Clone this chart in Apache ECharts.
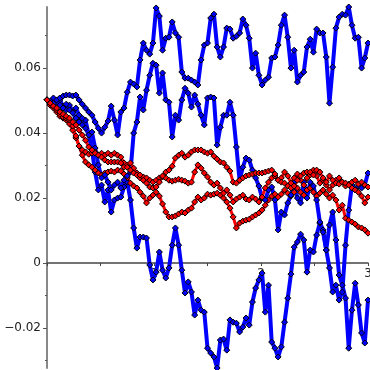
<!DOCTYPE html>
<html>
<head>
<meta charset="utf-8">
<script src="https://cdn.jsdelivr.net/npm/echarts@6/dist/echarts.min.js"></script>
<style>
  html, body { margin: 0; padding: 0; background: #fff; }
  #chart { width: 370px; height: 370px; }
</style>
</head>
<body>
<div id="chart"></div>
<script>
// time grid: 100 steps of 0.03 from 0 to 3
const tStep = 0.03

// three volatile (blue) paths
const blueTop = [0.0502, 0.0498, 0.0492, 0.0502, 0.0508, 0.0514, 0.0517, 0.0517, 0.0514, 0.0517,
  0.0502, 0.0489, 0.0477, 0.0465, 0.0455, 0.0434, 0.0415, 0.0400, 0.0418, 0.0437,
  0.0483, 0.0440, 0.0394, 0.0465, 0.0477, 0.0526, 0.0557, 0.0551, 0.0542, 0.0625,
  0.0677, 0.0655, 0.0643, 0.0677, 0.0785, 0.0760, 0.0655, 0.0692, 0.0695, 0.0742,
  0.0708, 0.0695, 0.0588, 0.0569, 0.0569, 0.0563, 0.0557, 0.0548, 0.0625, 0.0671,
  0.0677, 0.0754, 0.0766, 0.0665, 0.0634, 0.0665, 0.0723, 0.0720, 0.0692, 0.0698,
  0.0708, 0.0751, 0.0732, 0.0692, 0.0600, 0.0646, 0.0578, 0.0548, 0.0563, 0.0572,
  0.0631, 0.0634, 0.0671, 0.0732, 0.0763, 0.0695, 0.0600, 0.0655, 0.0557, 0.0578,
  0.0588, 0.0665, 0.0689, 0.0649, 0.0720, 0.0708, 0.0708, 0.0634, 0.0492, 0.0603,
  0.0723, 0.0757, 0.0766, 0.0763, 0.0788, 0.0732, 0.0692, 0.0695, 0.0600, 0.0631,
  0.0677]

const blueMid = [0.0502, 0.0492, 0.0489, 0.0495, 0.0486, 0.0477, 0.0489, 0.0471, 0.0462, 0.0446,
  0.0434, 0.0446, 0.0415, 0.0394, 0.0403, 0.0354, 0.0302, 0.0262, 0.0271, 0.0249,
  0.0225, 0.0240, 0.0249, 0.0231, 0.0255, 0.0268, 0.0280, 0.0400, 0.0434, 0.0511,
  0.0471, 0.0532, 0.0578, 0.0615, 0.0609, 0.0523, 0.0585, 0.0502, 0.0495, 0.0388,
  0.0455, 0.0440, 0.0502, 0.0538, 0.0523, 0.0480, 0.0517, 0.0489, 0.0455, 0.0425,
  0.0508, 0.0511, 0.0508, 0.0363, 0.0418, 0.0455, 0.0455, 0.0495, 0.0455, 0.0357,
  0.0255, 0.0295, 0.0323, 0.0317, 0.0286, 0.0262, 0.0237, 0.0200, 0.0194, 0.0225,
  0.0234, 0.0194, 0.0102, 0.0157, 0.0148, 0.0185, 0.0209, 0.0249, 0.0200, 0.0185,
  0.0249, 0.0200, 0.0249, 0.0237, 0.0194, 0.0126, 0.0095, 0.0040, -0.0015, -0.0089,
  -0.0068, -0.0114, -0.0089, 0.0055, 0.0163, 0.0240, 0.0225, 0.0237, 0.0231, 0.0240,
  0.0277]

const blueLow = [0.0502, 0.0495, 0.0508, 0.0489, 0.0502, 0.0483, 0.0471, 0.0486, 0.0465, 0.0477,
  0.0455, 0.0425, 0.0440, 0.0394, 0.0348, 0.0280, 0.0225, 0.0240, 0.0188, 0.0225,
  0.0157, 0.0194, 0.0200, 0.0203, 0.0234, 0.0249, 0.0194, 0.0108, 0.0046, 0.0080,
  0.0080, 0.0077, -0.0006, -0.0052, -0.0028, 0.0034, -0.0022, -0.0046, -0.0015, 0.0055,
  0.0108, 0.0055, -0.0022, -0.0092, -0.0058, -0.0089, -0.0160, -0.0114, -0.0145, -0.0151,
  -0.0262, -0.0277, -0.0289, -0.0323, -0.0237, -0.0234, -0.0268, -0.0175, -0.0182, -0.0185,
  -0.0212, -0.0197, -0.0169, -0.0191, -0.0120, -0.0077, -0.0052, -0.0031, -0.0151, -0.0068,
  -0.0243, -0.0262, -0.0289, -0.0258, -0.0182, -0.0108, -0.0034, 0.0049, 0.0065, 0.0089,
  0.0071, -0.0028, 0.0040, 0.0034, 0.0086, 0.0123, 0.0102, 0.0040, 0.0117, 0.0157,
  0.0071, -0.0037, -0.0068, -0.0108, -0.0262, -0.0145, -0.0062, -0.0129, -0.0215, -0.0246,
  -0.0114]

// three calm (red) paths
const redUpper = [0.0502, 0.0492, 0.0483, 0.0477, 0.0465, 0.0458, 0.0452, 0.0446, 0.0434, 0.0425,
  0.0409, 0.0394, 0.0378, 0.0357, 0.0348, 0.0338, 0.0332, 0.0326, 0.0317, 0.0311,
  0.0311, 0.0311, 0.0311, 0.0308, 0.0295, 0.0295, 0.0286, 0.0277, 0.0271, 0.0271,
  0.0255, 0.0246, 0.0234, 0.0231, 0.0234, 0.0249, 0.0268, 0.0280, 0.0286, 0.0298,
  0.0323, 0.0332, 0.0338, 0.0326, 0.0332, 0.0342, 0.0348, 0.0348, 0.0348, 0.0342,
  0.0338, 0.0342, 0.0329, 0.0320, 0.0311, 0.0308, 0.0295, 0.0283, 0.0249, 0.0246,
  0.0255, 0.0262, 0.0268, 0.0271, 0.0274, 0.0277, 0.0277, 0.0277, 0.0280, 0.0283,
  0.0286, 0.0274, 0.0255, 0.0249, 0.0246, 0.0237, 0.0231, 0.0237, 0.0255, 0.0268,
  0.0277, 0.0280, 0.0280, 0.0271, 0.0286, 0.0280, 0.0262, 0.0249, 0.0268, 0.0255,
  0.0246, 0.0243, 0.0249, 0.0246, 0.0240, 0.0249, 0.0255, 0.0243, 0.0249, 0.0240,
  0.0234]

const redMid = [0.0502, 0.0486, 0.0477, 0.0471, 0.0458, 0.0449, 0.0446, 0.0440, 0.0422, 0.0391,
  0.0360, 0.0348, 0.0342, 0.0335, 0.0338, 0.0342, 0.0332, 0.0338, 0.0332, 0.0338,
  0.0332, 0.0338, 0.0332, 0.0326, 0.0308, 0.0302, 0.0308, 0.0292, 0.0277, 0.0262,
  0.0265, 0.0262, 0.0255, 0.0249, 0.0255, 0.0262, 0.0265, 0.0262, 0.0255, 0.0252,
  0.0255, 0.0258, 0.0255, 0.0252, 0.0246, 0.0249, 0.0280, 0.0302, 0.0292, 0.0277,
  0.0265, 0.0249, 0.0240, 0.0246, 0.0231, 0.0215, 0.0225, 0.0209, 0.0188, 0.0197,
  0.0203, 0.0209, 0.0197, 0.0194, 0.0203, 0.0197, 0.0188, 0.0203, 0.0231, 0.0249,
  0.0262, 0.0268, 0.0255, 0.0262, 0.0280, 0.0268, 0.0246, 0.0262, 0.0274, 0.0255,
  0.0240, 0.0262, 0.0271, 0.0286, 0.0268, 0.0246, 0.0255, 0.0240, 0.0225, 0.0240,
  0.0255, 0.0262, 0.0249, 0.0237, 0.0243, 0.0231, 0.0225, 0.0218, 0.0206, 0.0185,
  0.0203]

const redLow = [0.0502, 0.0489, 0.0480, 0.0465, 0.0452, 0.0446, 0.0440, 0.0428, 0.0409, 0.0385,
  0.0360, 0.0332, 0.0311, 0.0302, 0.0295, 0.0286, 0.0277, 0.0271, 0.0277, 0.0280,
  0.0283, 0.0280, 0.0286, 0.0283, 0.0274, 0.0262, 0.0246, 0.0237, 0.0231, 0.0218,
  0.0206, 0.0185, 0.0200, 0.0209, 0.0218, 0.0206, 0.0182, 0.0157, 0.0142, 0.0142,
  0.0145, 0.0151, 0.0157, 0.0154, 0.0163, 0.0169, 0.0188, 0.0203, 0.0194, 0.0200,
  0.0212, 0.0209, 0.0212, 0.0215, 0.0209, 0.0200, 0.0188, 0.0169, 0.0142, 0.0108,
  0.0123, 0.0129, 0.0132, 0.0135, 0.0142, 0.0148, 0.0154, 0.0163, 0.0178, 0.0194,
  0.0206, 0.0212, 0.0203, 0.0212, 0.0225, 0.0215, 0.0206, 0.0218, 0.0231, 0.0218,
  0.0209, 0.0225, 0.0231, 0.0218, 0.0206, 0.0215, 0.0225, 0.0212, 0.0200, 0.0209,
  0.0194, 0.0163, 0.0178, 0.0138, 0.0132, 0.0126, 0.0120, 0.0111, 0.0108, 0.0102,
  0.0092]

// axis extents and ticks
const xMin = 0
const xMax = 3
const yMin = -0.0323
const yMax = 0.0788
const xLabelValues = [1, 2, 3]
const yMajorTicks = [-0.02, 0, 0.02, 0.04, 0.06]
const yMinorTicks = [-0.03, -0.01, 0.01, 0.03, 0.05, 0.07]

const paths = [
  { name: 'blueLow', values: blueLow, color: '#0000ff', width: 4 },
  { name: 'redLow', values: redLow, color: '#ff0000', width: 3 },
  { name: 'blueMid', values: blueMid, color: '#0000ff', width: 4 },
  { name: 'redMid', values: redMid, color: '#ff0000', width: 3 },
  { name: 'blueTop', values: blueTop, color: '#0000ff', width: 4 },
  { name: 'redUpper', values: redUpper, color: '#ff0000', width: 3 }
]

const toPoints = (vals) => vals.map((v, i) => [+(i * tStep).toFixed(2), v])

const fmtY = (v) => {
  if (Math.abs(v) < 1e-9) return '0'
  const s = Math.abs(v).toFixed(2)
  return v < 0 ? '\u2212' + s : s
}

// plot box in pixels
const W = 370
const H = 370
const gridTop = 7
const gridBottom = 2
const plotH = H - gridTop - gridBottom
// lift the x axis from the bottom edge up to y = 0
const zeroLift = plotH * (0 - yMin) / (yMax - yMin)

const chart = echarts.init(document.getElementById('chart'))

const labelFont = {
  color: '#222',
  fontSize: 12,
  fontFamily: 'DejaVu Sans'
}

const option = {
  animation: false,
  backgroundColor: '#ffffff',
  grid: {
    left: 47, right: 2, top: gridTop, bottom: gridBottom,
    containLabel: false,
    outerBoundsMode: 'none'
  },
  xAxis: {
    type: 'value',
    min: xMin,
    max: xMax,
    interval: 0.5,
    position: 'bottom',
    offset: -zeroLift,
    axisLine: { show: true, onZero: false, lineStyle: { color: '#444', width: 1.5 } },
    axisTick: { show: true, length: 3, lineStyle: { color: '#444' } },
    axisLabel: Object.assign({
      customValues: xLabelValues,
      margin: 5,
      formatter: (v) => String(v)
    }, labelFont),
    splitLine: { show: false }
  },
  yAxis: [
    {
      type: 'value',
      min: yMin,
      max: yMax,
      axisLine: { show: true, onZero: false, lineStyle: { color: '#888', width: 2 } },
      axisTick: { show: true, customValues: yMajorTicks, length: 4, lineStyle: { color: '#555' } },
      axisLabel: Object.assign({
        customValues: yMajorTicks,
        margin: 6,
        formatter: fmtY
      }, labelFont),
      splitLine: { show: false }
    },
    {
      type: 'value',
      min: yMin,
      max: yMax,
      position: 'left',
      axisLine: { show: false },
      axisTick: { show: true, customValues: yMinorTicks, length: 2, lineStyle: { color: '#555' } },
      axisLabel: { show: false },
      splitLine: { show: false }
    }
  ],
  series: paths.map((p) => ({
    name: p.name,
    type: 'line',
    yAxisIndex: 0,
    data: toPoints(p.values),
    showSymbol: true,
    symbol: 'diamond',
    symbolSize: 6,
    lineStyle: { color: p.color, width: p.width },
    itemStyle: { color: p.color, borderColor: '#000', borderWidth: 1 },
    emphasis: { disabled: true },
    z: 3
  }))
}

chart.setOption(option)
</script>
</body>
</html>
